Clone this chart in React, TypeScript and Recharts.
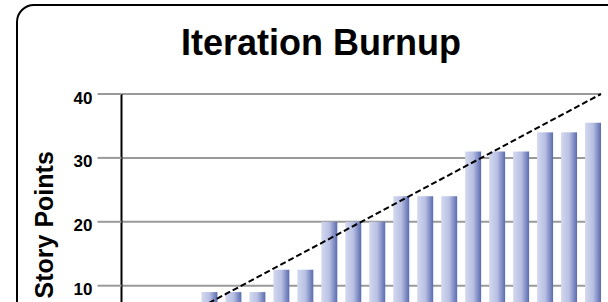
import { Bar, BarChart, CartesianGrid, ReferenceLine, XAxis, YAxis } from "recharts";

const ITERATIONS = ["1", "2", "3", "4", "5", "6", "7", "8", "9", "10", "11", "12", "13", "14", "15", "16", "17", "18", "19", "20"];
const STORY_POINTS = [3, 3, 6, 9, 9, 9, 12.5, 12.5, 20, 20, 20, 24, 24, 24, 31, 31, 31, 34, 34, 35.5];
const Y_TICKS = [0, 10, 20, 30, 40];
// ideal burnup: from 0 at the start to the full scope at the end
const IDEAL_LINE = [
  { iteration: 0, points: 0 },
  { iteration: 20, points: 40 },
];

const FONT = "'Liberation Sans', Arial, sans-serif";
const GRID = "#9a9a9a";

const rows = ITERATIONS.map((name, i) => ({ name, points: STORY_POINTS[i] }));

function YTick({ x, y, payload }: any) {
  if (payload.value === 0) return null;
  return (
    <text
      x={x}
      y={y + 4}
      textAnchor="end"
      dominantBaseline="central"
      fontFamily={FONT}
      fontWeight="bold"
      fontSize={17}
      fill="#000"
    >
      {payload.value}
    </text>
  );
}

function AxisTitle({ viewBox }: any) {
  const cy = viewBox.y + viewBox.height / 2 + 3;
  const bx = 53;
  return (
    <text
      x={bx}
      y={cy}
      transform={`rotate(-90, ${bx}, ${cy})`}
      textAnchor="middle"
      fontFamily={FONT}
      fontWeight="bold"
      fontSize={25}
      fill="#000"
    >
      Story Points
    </text>
  );
}

// bars sit at the right side of each category slot
function ShiftedBar(props: any) {
  const { x, y, width, height } = props;
  if (!height || height <= 0) return null;
  return <rect x={x + 4} y={y} width={width} height={height} fill="url(#barFill)" />;
}

export default function App() {
  return (
    <div style={{ position: "fixed", left: 0, top: 0, width: 608, height: 302, overflow: "hidden", background: "#fff" }}>
      <div
        style={{
          position: "absolute",
          left: 15.8,
          top: 4,
          width: 620,
          height: 420,
          border: "2px solid #000",
          borderRadius: 18,
          boxSizing: "border-box",
        }}
      />
      <div
        style={{
          position: "absolute",
          left: 0,
          width: 642,
          top: 24.5,
          textAlign: "center",
          fontFamily: FONT,
          fontWeight: "bold",
          fontSize: 36,
          lineHeight: 1,
          color: "#000",
          whiteSpace: "nowrap",
        }}
      >
        Iteration Burnup
      </div>
      <div style={{ position: "absolute", left: 0, top: 0 }}>
        <BarChart width={608} height={400} data={rows} margin={{ top: 94, right: 7, bottom: 50.4, left: 0 }}>
          <defs>
            <linearGradient id="barFill" x1="0" y1="0" x2="1" y2="0">
              <stop offset="0%" stopColor="#d4d9f0" />
              <stop offset="50%" stopColor="#b8c0e3" />
              <stop offset="100%" stopColor="#5a6bb0" />
            </linearGradient>
          </defs>
          <CartesianGrid horizontal vertical={false} stroke={GRID} strokeWidth={2} />
          <XAxis dataKey="name" hide />
          <XAxis xAxisId="ideal" type="number" dataKey="iteration" domain={[0, 20]} allowDataOverflow hide />
          <YAxis
            width={121.5}
            domain={[0, 40]}
            ticks={Y_TICKS}
            interval={0}
            axisLine={{ stroke: "#000", strokeWidth: 2 }}
            tickLine={{ stroke: GRID, strokeWidth: 2 }}
            tickSize={24}
            tickMargin={5}
            tick={<YTick />}
            label={<AxisTitle />}
          />
          <Bar dataKey="points" barSize={16} shape={<ShiftedBar />} isAnimationActive={false} />
          <ReferenceLine
            xAxisId="ideal"
            segment={IDEAL_LINE.map((p) => ({ x: p.iteration, y: p.points }))}
            stroke="#000"
            strokeWidth={2}
            strokeDasharray="6 3"
            ifOverflow="visible"
          />
        </BarChart>
      </div>
    </div>
  );
}
